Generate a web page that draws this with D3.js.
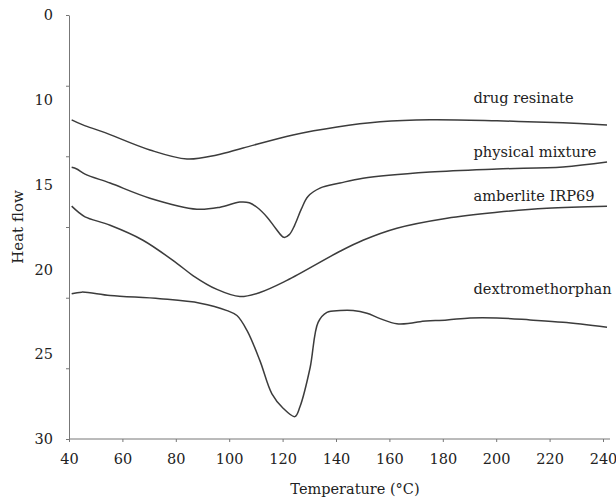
<!DOCTYPE html>
<html>
    <head>
        <title>Heat flow vs temperature</title>
        <style>
            body { margin: 0; background: #fff; }
            svg text { font-family: "DejaVu Serif", serif; fill: #222; }
            .curve { fill: none; stroke: #3c3c3c; stroke-width: 1.5; }
            .axis path, .axis line { stroke: #777; }
        </style>
        <script src="https://cdnjs.cloudflare.com/ajax/libs/d3/7.0.4/d3.min.js" charset="utf-8"></script>
    </head>
    <body>
        <div id="chart"></div>
        <script>
            // values: [temperature °C, heat flow]
            const drugResinate = [
                [41, 11.18], [45.2, 11.48], [52.7, 11.89], [70.3, 12.96], [84.2, 13.49],
                [95.4, 13.25], [105.2, 12.84], [123.9, 12.07], [140.4, 11.6], [156.5, 11.3],
                [175.2, 11.18], [200.3, 11.24], [225, 11.36], [241.5, 11.48]
            ];
            const physicalMixture = [
                [41, 13.98], [42.9, 14.08], [46, 14.38], [55.4, 14.91], [70.3, 15.8],
                [87.9, 16.45], [96.6, 16.33], [104, 16.03], [107.5, 16.07], [110.5, 16.35],
                [114.2, 16.92], [117.5, 17.6], [120.5, 18.11], [122.5, 17.95], [124.5, 17.4],
                [127, 16.45], [129.5, 15.7], [134, 15.21], [141.5, 14.91], [150.1, 14.62],
                [175.2, 14.26], [200.3, 14.08], [225, 13.96], [241.5, 13.67]
            ];
            const amberlite = [
                [41, 16.27], [43.4, 16.61], [46, 16.9], [55.4, 17.4], [67.7, 18.28],
                [80.4, 19.64], [86.4, 20.36], [95.4, 21.18], [104, 21.6], [111.5, 21.36],
                [121.6, 20.65], [141.5, 18.93], [150.1, 18.28], [162.8, 17.57], [181.6, 16.98],
                [200.3, 16.63], [219, 16.39], [241.5, 16.27]
            ];
            const dextromethorphan = [
                [41, 21.44], [44.8, 21.34], [55.4, 21.54], [74.1, 21.73], [89.1, 21.99],
                [99.2, 22.43], [102.9, 22.72], [106.7, 23.61], [111.5, 25.38], [116, 27.34],
                [120.1, 28.17], [124.6, 28.68], [126.5, 28.1], [130.3, 25.8], [133.3, 23.12],
                [136.6, 22.53], [141.5, 22.43], [146.4, 22.43], [151.6, 22.59], [156.5, 22.9],
                [162.8, 23.21], [167.7, 23.18], [171.5, 23.08], [181.6, 22.98], [190.2, 22.86],
                [200.3, 22.86], [212.7, 22.98], [225, 23.12], [241.5, 23.41]
            ];

            const seriesNames = ["drug resinate", "physical mixture", "amberlite IRP69", "dextromethorphan"];
            const seriesData = [drugResinate, physicalMixture, amberlite, dextromethorphan];
            // where each name sits (temperature, heat flow of its baseline)
            const nameSpots = [[191.5, 10.17], [191.5, 13.4], [191.5, 15.95], [191.5, 21.45]];

            const xTicks = [40, 60, 80, 100, 120, 140, 160, 180, 200, 220, 240];
            // the printed figure labels its top tick "0"
            const yTicks = [5, 10, 15, 20, 25, 30];
            const yTickLabels = ["0", "10", "15", "20", "25", "30"];
            const yMarks = [5, 9.17, 13.33, 17.5, 21.67, 25.83, 30];

            const w = 616, h = 499;
            const mLeft = 69, mRight = 603, mTop = 15, mBottom = 439;

            const svg = d3.select("#chart").append("svg")
                .attr("width", w)
                .attr("height", h);

            const xScale = d3.scaleLinear().domain([40, 240]).range([mLeft, mRight]);
            const yScale = d3.scaleLinear().domain([5, 30]).range([mTop, mBottom]);

            // x axis, line runs a little past 240
            const xAxis = d3.axisBottom(xScale).tickValues(xTicks).tickSize(3).tickPadding(12).tickSizeOuter(0);
            const gx = svg.append("g")
                .attr("class", "axis")
                .attr("transform", "translate(0," + mBottom + ")")
                .call(xAxis);
            gx.select(".domain").attr("d", "M" + mLeft + ",0H" + (mRight + 7));
            gx.selectAll("text").style("font-size", "14.5px");

            // y labels
            const yAxis = d3.axisLeft(yScale).tickValues(yTicks).tickSize(0).tickPadding(16)
                .tickFormat((d, i) => yTickLabels[i]);
            const gy = svg.append("g")
                .attr("class", "axis")
                .attr("transform", "translate(" + mLeft + ",0)")
                .call(yAxis);
            gy.select(".domain").remove();
            gy.selectAll("text").style("font-size", "14.5px");

            // y tick marks (evenly spaced, not where the labels are)
            svg.append("g")
                .attr("class", "axis")
                .attr("transform", "translate(" + mLeft + ",0)")
                .call(d3.axisLeft(yScale).tickValues(yMarks).tickSize(3).tickSizeOuter(0).tickFormat(""));

            const line = d3.line()
                .x(d => xScale(d[0]))
                .y(d => yScale(d[1]))
                .curve(d3.curveCatmullRom.alpha(0.5));

            svg.selectAll(".curve")
                .data(seriesData)
                .enter()
                .append("path")
                .attr("class", "curve")
                .attr("d", line);

            svg.selectAll(".name")
                .data(seriesNames)
                .enter()
                .append("text")
                .attr("class", "name")
                .attr("x", (d, i) => xScale(nameSpots[i][0]))
                .attr("y", (d, i) => yScale(nameSpots[i][1]))
                .style("font-size", "14.6px")
                .text(d => d);

            svg.append("text")
                .attr("transform", "translate(23," + ((mTop + mBottom) / 2) + ") rotate(-90)")
                .attr("text-anchor", "middle")
                .style("font-size", "15px")
                .text("Heat flow");

            svg.append("text")
                .attr("x", 355)
                .attr("y", 494)
                .attr("text-anchor", "middle")
                .style("font-size", "14.5px")
                .text("Temperature (°C)");
        </script>
    </body>
</html>
